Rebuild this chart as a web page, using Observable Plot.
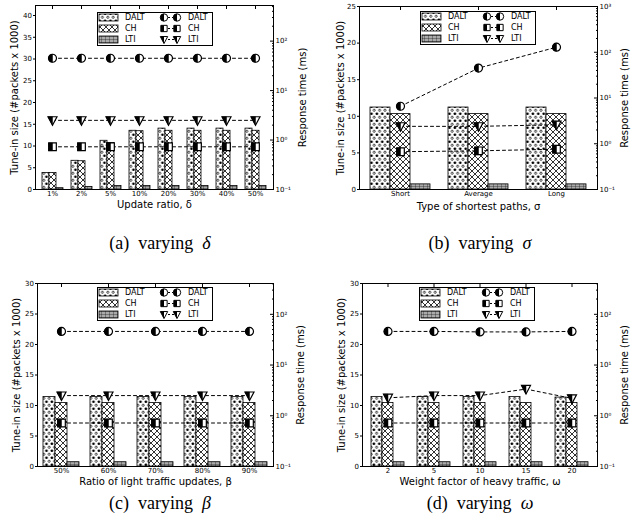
<!DOCTYPE html>
<html><head><meta charset="utf-8">
<script src="https://cdn.jsdelivr.net/npm/d3@7"></script>
<script src="https://cdn.jsdelivr.net/npm/@observablehq/plot@0.6"></script>
<style>
body{margin:0;background:#fff;font-family:"DejaVu Sans";}
#root{position:relative;width:640px;height:527px;overflow:hidden;background:#fff;}
.layer{position:absolute;width:320px;height:230px;}
.caption{position:absolute;width:320px;text-align:center;font-family:"Liberation Serif";font-size:18px;line-height:18px;white-space:pre;color:#000;}
.caption i{font-style:italic;}
svg [aria-label$="tick label"]{font-size:7px;}
svg [aria-label$="axis label"]{font-size:10px;}
</style></head><body>
<svg width="0" height="0" style="position:absolute">
<defs>
<pattern id="pDALT" patternUnits="userSpaceOnUse" width="5.4" height="7">
  <rect width="5.4" height="7" fill="white"/>
  <circle cx="2.7" cy="1.75" r="1.35" fill="black"/>
  <circle cx="0" cy="5.25" r="1.1" fill="white" stroke="black" stroke-width="0.7"/>
  <circle cx="5.4" cy="5.25" r="1.1" fill="white" stroke="black" stroke-width="0.7"/>
</pattern>
<pattern id="pCH" patternUnits="userSpaceOnUse" width="6" height="6">
  <rect width="6" height="6" fill="white"/>
  <path d="M0,0L6,6M6,0L0,6" stroke="black" stroke-width="0.8"/>
</pattern>
<pattern id="pLTI" patternUnits="userSpaceOnUse" width="4" height="3">
  <rect width="4" height="3" fill="#aaa"/>
  <path d="M0,0H4M0,0V3" stroke="black" stroke-width="0.6"/>
</pattern>
</defs></svg>
<div id="root"></div>
<script>
// ---------------- data ----------------
const seriesNames = ["DALT", "CH", "LTI"];

// (a) varying delta
const catsA = ["1%", "2%", "5%", "10%", "20%", "30%", "40%", "50%"];
const tuneDaltA = [3.8, 6.6, 11.2, 13.5, 14.0, 14.0, 14.0, 14.0];
const tuneChA   = [3.8, 6.5, 10.7, 13.4, 13.5, 13.5, 13.5, 13.5];
const tuneLtiA  = [0.3, 0.6, 0.8, 0.8, 0.8, 0.8, 0.8, 0.8];
const rtDaltA = [45, 45, 45, 45, 45, 45, 45, 45];
const rtChA   = [0.73, 0.73, 0.73, 0.73, 0.73, 0.73, 0.73, 0.73];
const rtLtiA  = [2.5, 2.5, 2.5, 2.5, 2.5, 2.5, 2.5, 2.5];

// (b) varying sigma
const catsB = ["Short", "Average", "Long"];
const tuneDaltB = [11.2, 11.2, 11.2];
const tuneChB   = [10.3, 10.3, 10.3];
const tuneLtiB  = [0.7, 0.7, 0.7];
const rtDaltB = [6.6, 45, 129];
const rtChB   = [0.67, 0.70, 0.76];
const rtLtiB  = [2.4, 2.4, 2.6];

// (c) varying beta
const catsC = ["50%", "60%", "70%", "80%", "90%"];
const tuneDaltC = [11.4, 11.4, 11.4, 11.4, 11.4];
const tuneChC   = [10.4, 10.4, 10.4, 10.4, 10.4];
const tuneLtiC  = [0.7, 0.7, 0.7, 0.7, 0.7];
const rtDaltC = [46, 46, 46, 46, 46];
const rtChC   = [0.72, 0.72, 0.72, 0.72, 0.72];
const rtLtiC  = [2.5, 2.5, 2.5, 2.5, 2.5];

// (d) varying omega
const catsD = ["2", "5", "10", "15", "20"];
const tuneDaltD = [11.4, 11.4, 11.4, 11.4, 11.3];
const tuneChD   = [10.4, 10.4, 10.4, 10.4, 10.4];
const tuneLtiD  = [0.7, 0.7, 0.7, 0.7, 0.7];
const rtDaltD = [46, 46, 45, 45, 46];
const rtChD   = [0.72, 0.72, 0.72, 0.72, 0.72];
const rtLtiD  = [2.26, 2.5, 2.5, 3.36, 2.2];

// tick labels / texts
const leftTicksA = [0, 5, 10, 15, 20, 25, 30, 35, 40];
const leftTicksB = [0, 5, 10, 15, 20, 25];
const leftTicksCD = [0, 5, 10, 15, 20, 25, 30];
const rightTicks = [0.1, 1, 10, 100, 1000];
const rightTickLabels = ["10\u207B\u00B9", "10\u2070", "10\u00B9", "10\u00B2", "10\u00B3"];
const leftLabel = "Tune-in size (#packets x 1000)";
const rightLabel = "Response time (ms)";
const xLabels = ["Update ratio, \u03B4", "Type of shortest paths, \u03C3", "Ratio of light traffic updates, \u03B2", "Weight factor of heavy traffic, \u03C9"];
const captionTags = ["(a)", "(b)", "(c)", "(d)"];
const captionSymbols = ["\u03B4", "\u03C3", "\u03B2", "\u03C9"];

// ---------------- symbols ----------------
const R = s => Math.sqrt(s / Math.PI);
const symCircle = {draw(c, s) { const r = R(s); c.moveTo(r, 0); c.arc(0, 0, r, 0, 2 * Math.PI); c.closePath(); }};
const symCircleL = {draw(c, s) { const r = R(s); c.moveTo(0, -r); c.arc(0, 0, r, -Math.PI / 2, Math.PI / 2, true); c.closePath(); }};
const symSquare = {draw(c, s) { const h = R(s) * 0.85; c.rect(-h, -h, 2 * h, 2 * h); }};
const symSquareL = {draw(c, s) { const h = R(s) * 0.85; c.rect(-h, -h, h, 2 * h); }};
const symTri = {draw(c, s) { const r = R(s); c.moveTo(-r, -0.8 * r); c.lineTo(r, -0.8 * r); c.lineTo(0, 1.1 * r); c.closePath(); }};
const symTriL = {draw(c, s) { const r = R(s); c.moveTo(-r, -0.8 * r); c.lineTo(0, -0.8 * r); c.lineTo(0, 1.1 * r); c.closePath(); }};
const fullSym = {DALT: symCircle, CH: symSquare, LTI: symTri};
const halfSym = {DALT: symCircleL, CH: symSquareL, LTI: symTriL};
const symR = {DALT: 4, CH: 4.5, LTI: 4.5};
const patFill = {DALT: "url(#pDALT)", CH: "url(#pCH)", LTI: "url(#pLTI)"};

// ---------------- layout ----------------
const panels = [
  {left: 0, top: 0, mL: 35, mR: 47, mT: 5, mB: 41, yMax: 42.3, logMax: 525, lOff: 24.5, rOff: 32.5, xOff: 18, legX: 97, legY: 12,
   cats: catsA, tune: [tuneDaltA, tuneChA, tuneLtiA], rt: [rtDaltA, rtChA, rtLtiA], leftTicks: leftTicksA, nRight: 4},
  {left: 320, top: 0, mL: 39, mR: 43, mT: 6, mB: 41, yMax: 25, logMax: 1000, lOff: 22.5, rOff: 30.5, xOff: 20, legX: 420, legY: 11,
   cats: catsB, tune: [tuneDaltB, tuneChB, tuneLtiB], rt: [rtDaltB, rtChB, rtLtiB], leftTicks: leftTicksB, nRight: 5},
  {left: 0, top: 260, mL: 37, mR: 47, mT: 23, mB: 24, yMax: 30, logMax: 405, lOff: 24.5, rOff: 30.5, xOff: 18, legX: 97, legY: 287,
   cats: catsC, tune: [tuneDaltC, tuneChC, tuneLtiC], rt: [rtDaltC, rtChC, rtLtiC], leftTicks: leftTicksCD, nRight: 4},
  {left: 320, top: 260, mL: 42, mR: 43, mT: 23, mB: 24, yMax: 30, logMax: 405, lOff: 24.5, rOff: 30.5, xOff: 18, legX: 419, legY: 287,
   cats: catsD, tune: [tuneDaltD, tuneChD, tuneLtiD], rt: [rtDaltD, rtChD, rtLtiD], leftTicks: leftTicksCD, nRight: 4}
];
const PI = 0.23, PO = 0.125;
const root = document.getElementById("root");

function addLayer(p, svg) {
  const div = document.createElement("div");
  div.className = "layer";
  div.style.left = p.left + "px";
  div.style.top = p.top + "px";
  div.appendChild(svg);
  root.appendChild(div);
}

panels.forEach((p, pi) => {
  const bars = [], rts = [];
  p.cats.forEach((c, i) => seriesNames.forEach((s, j) => {
    bars.push({cat: c, series: s, value: p.tune[j][i]});
    rts.push({cat: c, series: s, rt: p.rt[j][i]});
  }));
  const common = {width: 320, height: 230, marginLeft: p.mL, marginRight: p.mR, marginTop: p.mT, marginBottom: p.mB,
    style: "background:transparent;font-family:'DejaVu Sans';font-size:10px;overflow:visible;color:black;"};

  // layer 1: bars (faceted by category)
  addLayer(p, Plot.plot({...common,
    fx: {domain: p.cats, paddingInner: PI, paddingOuter: PO, axis: null, label: null},
    x: {domain: seriesNames, padding: 0, axis: null},
    y: {domain: [0, p.yMax], axis: null},
    marks: seriesNames.map(s => Plot.barY(bars.filter(d => d.series === s),
      {fx: "cat", x: "series", y: "value", fill: patFill[s], stroke: "black", strokeWidth: 0.8}))
  }));

  // layer 2: left axis, x axis, frame
  addLayer(p, Plot.plot({...common,
    x: {type: "band", domain: p.cats, paddingInner: PI, paddingOuter: PO},
    y: {domain: [0, p.yMax]},
    marks: [
      Plot.axisY({anchor: "left", ticks: p.leftTicks, tickSize: 2, tickPadding: 1.5, label: leftLabel,
        labelAnchor: "center", labelOffset: p.lOff, labelArrow: "none"}),
      Plot.axisX({anchor: "bottom", tickSize: 0, tickPadding: 1.5, label: xLabels[pi],
        labelAnchor: "center", labelOffset: p.xOff, labelArrow: "none"}),
      Plot.axisX({anchor: "top", tickSize: -3, tickFormat: () => "", label: null}),
      Plot.frame({stroke: "black", strokeWidth: 1})
    ]
  }));

  // layer 3: response time lines (log, right axis)
  const majors = rightTicks.slice(0, p.nRight);
  const minors = [];
  majors.forEach(m => { for (let k = 2; k <= 9; k++) if (m * k <= p.logMax) minors.push(m * k); });
  addLayer(p, Plot.plot({...common,
    x: {type: "band", domain: p.cats, paddingInner: PI, paddingOuter: PO, axis: null},
    y: {type: "log", domain: [0.1, p.logMax], axis: null},
    marks: [
      Plot.axisY({anchor: "right", ticks: majors, tickSize: -4, tickPadding: 6,
        tickFormat: d => rightTickLabels[rightTicks.indexOf(d)],
        label: rightLabel, labelAnchor: "center", labelOffset: p.rOff, labelArrow: "none"}),
      Plot.axisY({anchor: "right", ticks: minors, tickSize: -2, tickFormat: () => "", label: null}),
      Plot.line(rts, {x: "cat", y: "rt", z: "series", stroke: "black", strokeWidth: 1, strokeDasharray: "3,3"}),
      ...seriesNames.flatMap(s => [
        Plot.dot(rts.filter(d => d.series === s), {x: "cat", y: "rt", r: symR[s], symbol: fullSym[s], fill: "white", stroke: "black", strokeWidth: 1.2}),
        Plot.dot(rts.filter(d => d.series === s), {x: "cat", y: "rt", r: symR[s], symbol: halfSym[s], fill: "black", stroke: "black", strokeWidth: 0.5})
      ])
    ]
  }));

  // legend
  const lg = d3.select(root).append("svg").attr("width", 117).attr("height", 35)
    .style("position", "absolute").style("left", p.legX + "px").style("top", p.legY + "px");
  lg.append("rect").attr("x", 0.5).attr("y", 0.5).attr("width", 115).attr("height", 33)
    .attr("fill", "white").attr("stroke", "black").attr("stroke-width", 1);
  seriesNames.forEach((s, j) => {
    const cy = 5.5 + 11 * j;
    lg.append("rect").attr("x", 2).attr("y", cy - 3.5).attr("width", 19).attr("height", 7)
      .attr("fill", patFill[s]).attr("stroke", "black").attr("stroke-width", 0.8);
    lg.append("text").attr("x", 28).attr("y", cy).attr("dy", "0.35em").attr("font-size", 8)
      .attr("font-family", "DejaVu Sans").text(s);
    lg.append("line").attr("x1", 67).attr("x2", 80).attr("y1", cy).attr("y2", cy)
      .attr("stroke", "black").attr("stroke-dasharray", "2,2");
    [67, 80].forEach(mx => {
      const sz = Math.PI * 3.7 * 3.7;
      lg.append("path").attr("transform", `translate(${mx},${cy})`).attr("d", d3.symbol(fullSym[s], sz)())
        .attr("fill", "white").attr("stroke", "black");
      lg.append("path").attr("transform", `translate(${mx},${cy})`).attr("d", d3.symbol(halfSym[s], sz)())
        .attr("fill", "black");
    });
    lg.append("text").attr("x", 91).attr("y", cy).attr("dy", "0.35em").attr("font-size", 8)
      .attr("font-family", "DejaVu Sans").text(s);
  });

  // caption
  const cap = document.createElement("div");
  cap.className = "caption";
  cap.style.left = p.left + "px";
  cap.style.top = (p.top + 234) + "px";
  cap.innerHTML = `${captionTags[pi]}  varying  <i>${captionSymbols[pi]}</i>`;
  root.appendChild(cap);
});
</script>
</body></html>
